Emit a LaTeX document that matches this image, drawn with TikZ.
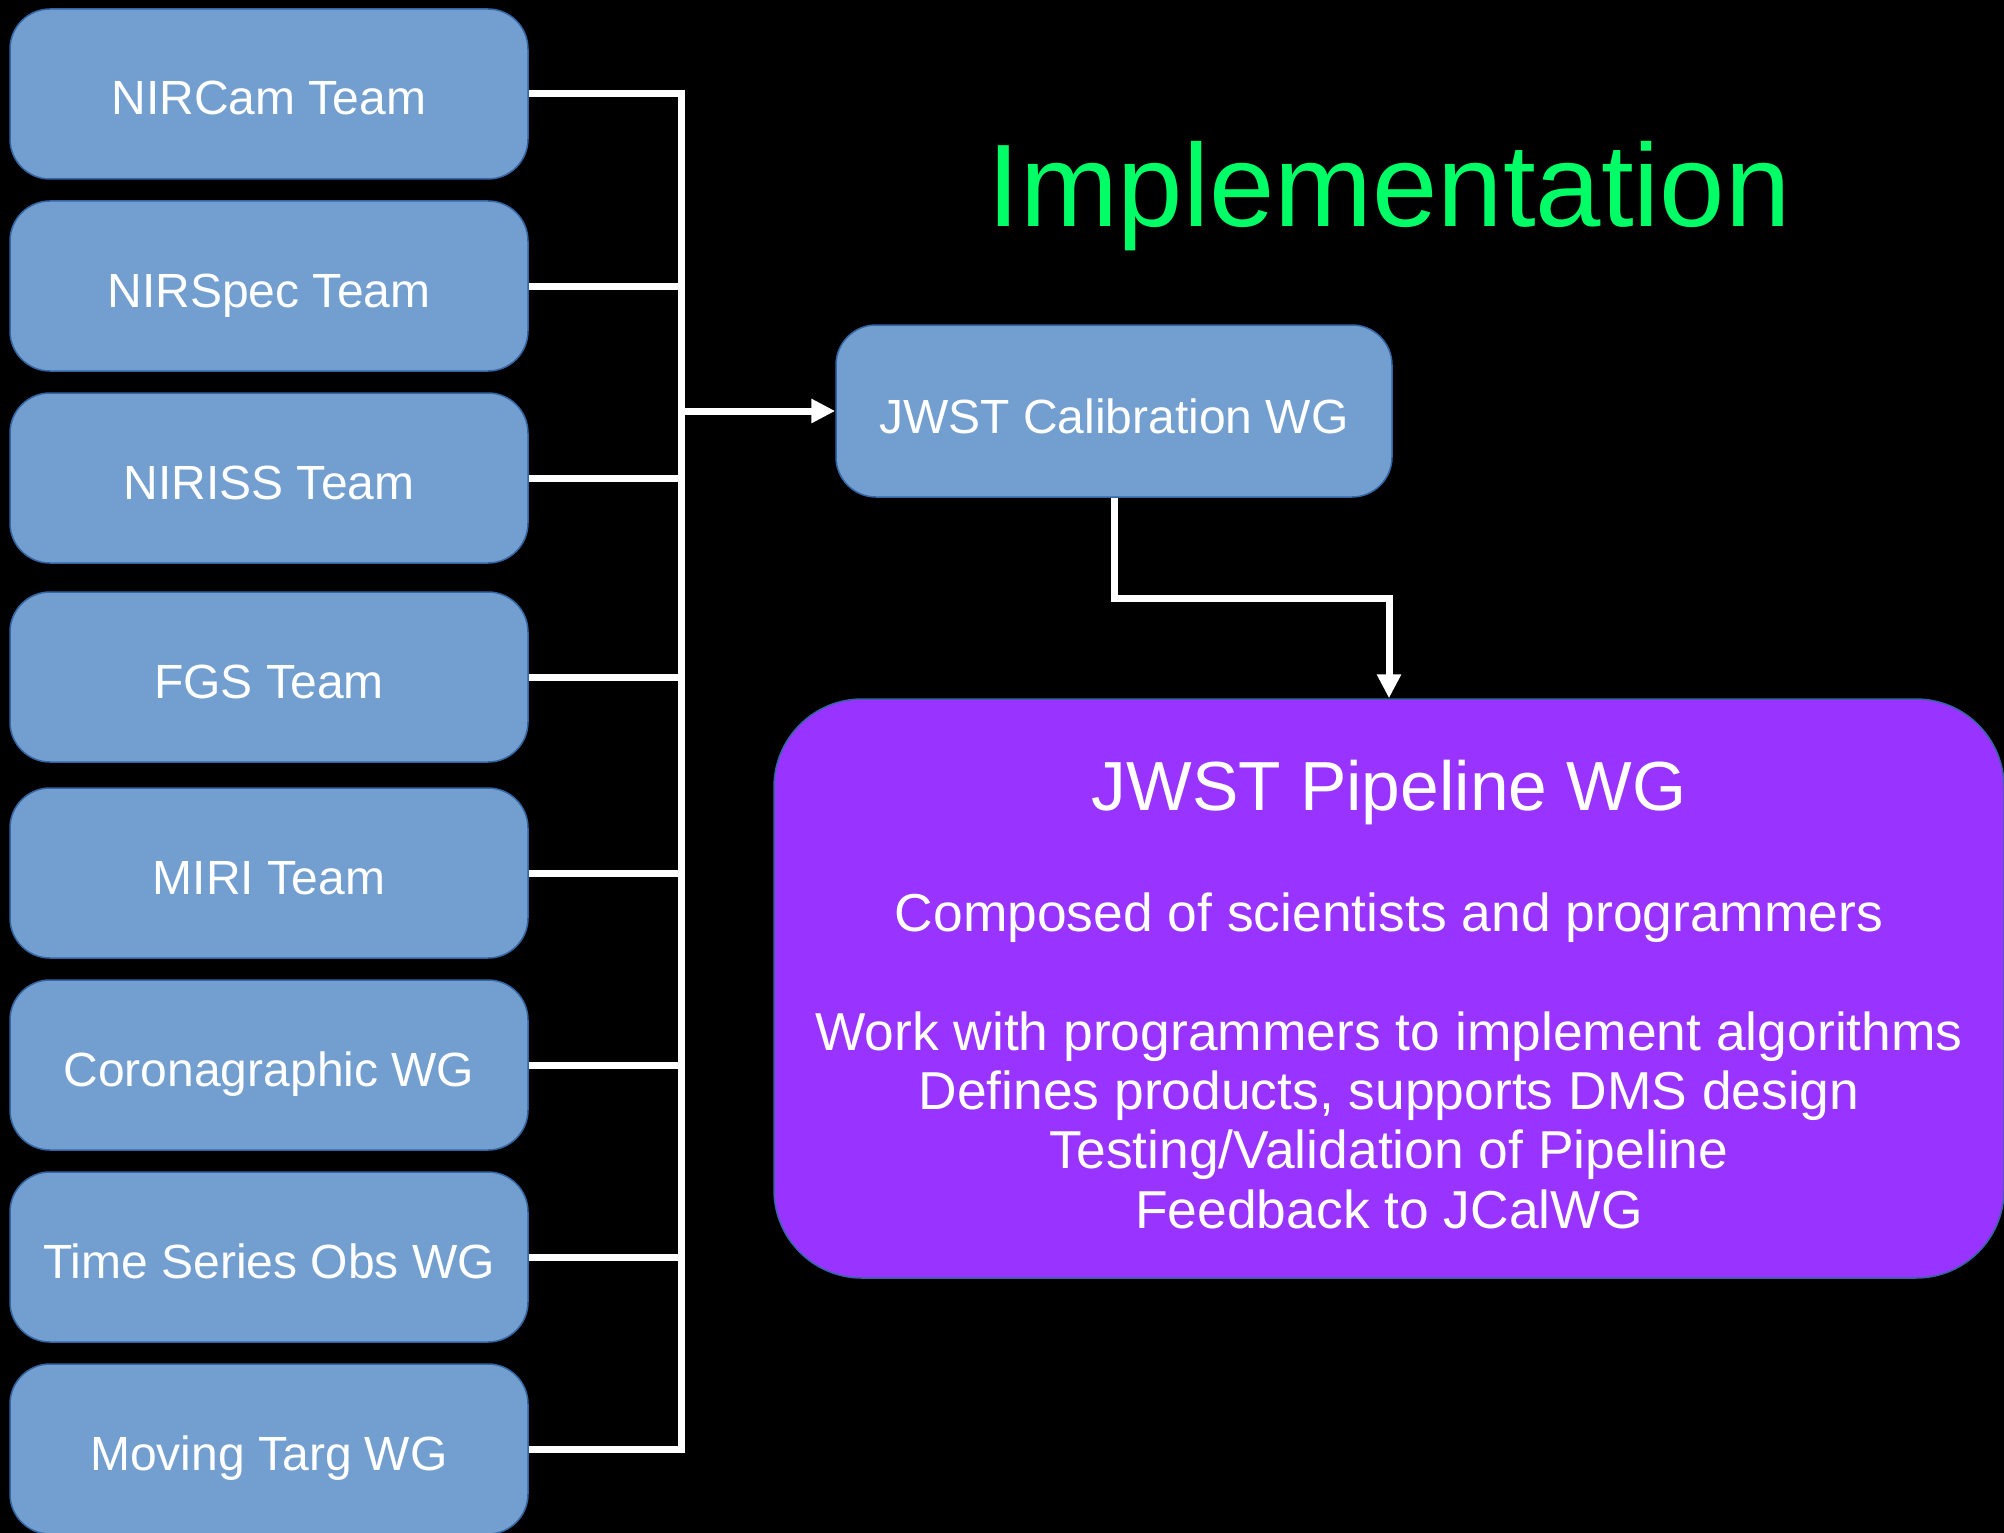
\documentclass[tikz,border=0pt]{standalone}
\usepackage{fontspec}
\setmainfont{Liberation Sans}
\usetikzlibrary{arrows.meta}
\definecolor{boxblue}{RGB}{114,159,207}
\definecolor{boxedge}{RGB}{52,101,164}
\definecolor{pipepurple}{RGB}{153,51,255}
\definecolor{titlegreen}{RGB}{0,255,102}
\tikzset{
  teambox/.style={draw=boxedge, line width=1.5pt, fill=boxblue, rounded corners=40pt,
    minimum width=518pt, minimum height=170pt, inner sep=0pt,
    text=white, font=\fontsize{48}{57}\selectfont, text height=42pt, text depth=0pt},
  calbox/.style={teambox, minimum width=556pt, minimum height=172pt, font=\fontsize{48}{57}\selectfont, text height=44pt},
  pipebox/.style={draw=boxedge, line width=1.5pt, fill=pipepurple, rounded corners=88pt,
    minimum width=1230pt, minimum height=579pt, inner sep=0pt},
  pipetext/.style={text=white, anchor=base, inner sep=0pt},
  bodytext/.style={pipetext, font=\fontsize{53.4}{60}\selectfont},
  wire/.style={draw=white, line width=7pt},
  arr/.style={wire, -{Triangle[length=24pt,width=23pt]}}
}
\begin{document}
\begin{tikzpicture}[x=1pt,y=-1pt]
\fill[black] (0,0) rectangle (2004,1533);
\useasboundingbox (0,0) rectangle (2004,1533);
% left boxes
\node[teambox] (n1) at (269,94)   {NIRCam Team};
\node[teambox] (n2) at (269,286)  {NIRSpec Team};
\node[teambox] (n3) at (269,478)  {NIRISS Team};
\node[teambox] (n4) at (269,677)  {FGS Team};
\node[teambox] (n5) at (269,873)  {MIRI Team};
\node[teambox] (n6) at (269,1065) {Coronagraphic WG};
\node[teambox] (n7) at (269,1257) {Time Series Obs WG};
\node[teambox] (n8) at (269,1449) {Moving Targ WG};
% title
\node[text=titlegreen, anchor=base, inner sep=0pt, font=\fontsize{117.5}{130}\selectfont] (title) at (1389,226) {Implementation};
% calibration
\node[calbox] (cal) at (1114,411) {JWST Calibration WG};
% pipeline
\node[pipebox] (pipe) at (1389,988.5) {};
\node[pipetext, font=\fontsize{69.5}{80}\selectfont] (p0) at (1389,810) {JWST Pipeline WG};
\node[bodytext] (p1) at (1389,931) {Composed of scientists and programmers};
\node[bodytext] (p2) at (1389,1050) {Work with programmers to implement algorithms};
\node[bodytext] (p3) at (1389,1109) {Defines products, supports DMS design};
\node[bodytext] (p4) at (1389,1168) {Testing/Validation of Pipeline};
\node[bodytext] (p5) at (1389,1228) {Feedback to JCalWG};
% bus
\coordinate (bus) at (681,0);
\draw[wire, line join=miter] (n1.east) -- (n1.east -| bus) -- (n8.east -| bus) -- (n8.east);
\foreach \n in {n2,n3,n4,n5,n6,n7}{
  \draw[wire] (\n.east) -- (\n.east -| bus);
}
\coordinate (busout) at (bus |- cal.west);
\draw[arr] (busout) -- (cal.west);
\draw[arr, line join=miter] (cal.south) -- ++(0,101) -| (pipe.north);
\end{tikzpicture}
\end{document}
